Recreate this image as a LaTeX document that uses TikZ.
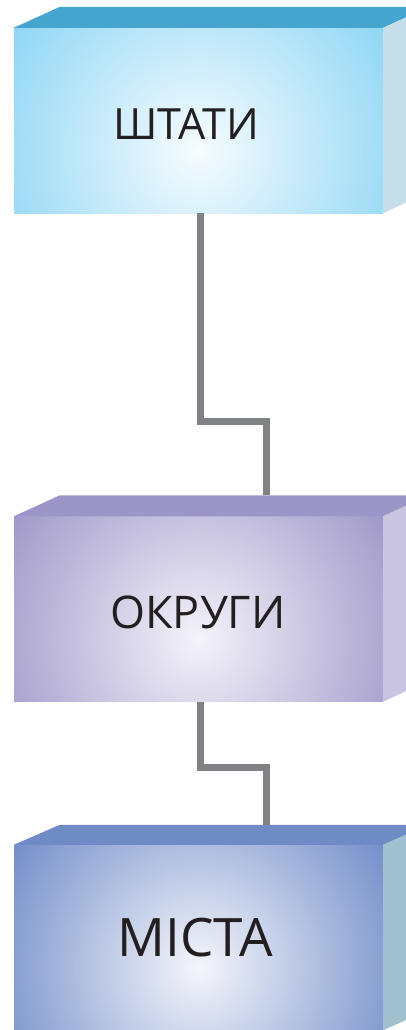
\documentclass[tikz,border=0pt]{standalone}
\usepackage{fontspec}
\setmainfont{Open Sans}
\usepackage{tikz}
\usetikzlibrary{calc,positioning}
\definecolor{topa}{HTML}{45A5CF}
\definecolor{outa}{HTML}{8ED6F5}
\definecolor{ina}{HTML}{F7FCFE}
\definecolor{sidea}{HTML}{C4DFE9}
\definecolor{topb}{HTML}{9C96C8}
\definecolor{outb}{HTML}{9F98C9}
\definecolor{inb}{HTML}{F4F3FA}
\definecolor{sideb}{HTML}{C8C4E2}
\definecolor{topc}{HTML}{6E8BC6}
\definecolor{outc}{HTML}{728DC9}
\definecolor{inc}{HTML}{F5F6FB}
\definecolor{sidec}{HTML}{A2C1D0}
\definecolor{linkc}{HTML}{808285}
\definecolor{txtc}{HTML}{231F20}
\tikzset{
  face/.style 2 args={rectangle,minimum width=369pt,minimum height=185pt,inner sep=0pt,fill=#2,
    path picture={\shade[inner color=#1,outer color=#2]
      ([yshift=-30pt]path picture bounding box.center) circle (225pt);}},
  lbl/.style={font=\fontsize{43}{43}\selectfont,text=txtc,inner sep=0pt},
  link/.style={linkc,line width=7pt,line join=miter}
}
\begin{document}
\begin{tikzpicture}[x=1pt,y=-1pt]
\useasboundingbox (0,0) rectangle (406,1030);
\clip (0,0) rectangle (406,1030);
% boxes
\node[face={ina}{outa}] (states) at (198.5,120.5) {};
\node[face={inb}{outb}] (counties) at (198.5,609) {};
\node[face={inc}{outc}] (cities) at (198.5,937.5) {};
\fill[topa] (states.north west) -- ++(46,-21) -- ++(369,0) -- (states.north east) -- cycle;
\fill[sidea] (states.north east) -- ++(46,-21) -- ++(0,185) -- (states.south east) -- cycle;
\fill[topb] (counties.north west) -- ++(46,-21) -- ++(369,0) -- (counties.north east) -- cycle;
\fill[sideb] (counties.north east) -- ++(46,-21) -- ++(0,185) -- (counties.south east) -- cycle;
\fill[topc] (cities.north west) -- ++(46,-20) -- ++(369,0) -- (cities.north east) -- cycle;
\fill[sidec] (cities.north east) -- ++(46,-20) -- ++(0,185) -- (cities.south east) -- cycle;
% texts
\node[lbl] (statest) at (186,124) {ШТАТИ};
\node[lbl,font=\fontsize{45}{45}\selectfont] (countiest) at (198,612) {ОКРУГИ};
\node[lbl,font=\fontsize{53}{53}\selectfont] (citiest) at (195,938) {МІСТА};
% links
\draw[link] ([xshift=1.5pt]states.south) -- ++(0,208) -| ([xshift=67.5pt,yshift=21pt]counties.north);
\draw[link] ([xshift=1.5pt]counties.south) -- ++(0,66) -| ([xshift=67.5pt,yshift=20pt]cities.north);
\end{tikzpicture}
\end{document}
